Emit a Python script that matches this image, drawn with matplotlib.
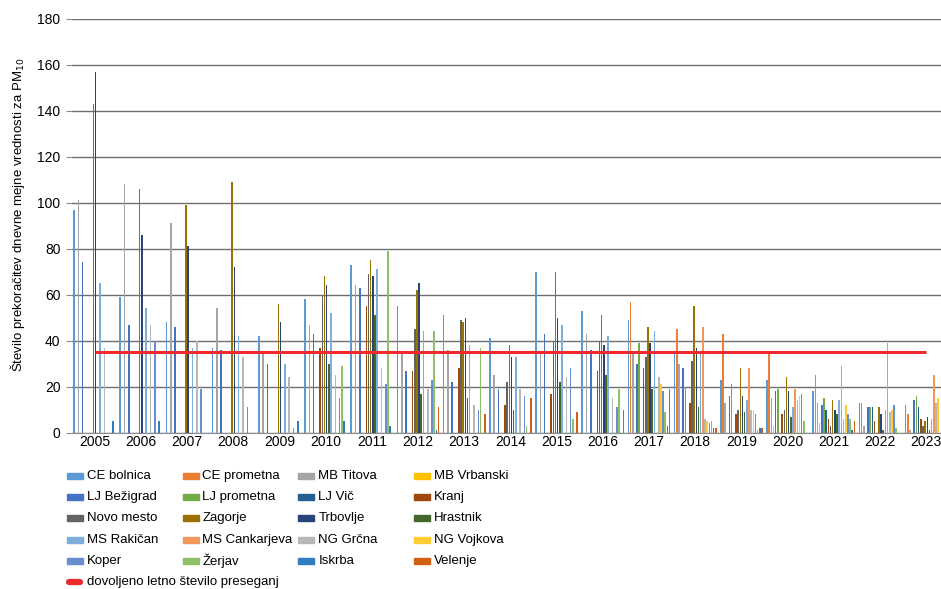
import numpy as np
import matplotlib.pyplot as plt
from matplotlib.patches import Rectangle
from matplotlib.lines import Line2D

plt.rcParams['font.family'] = ['Liberation Sans Narrow', 'Liberation Sans', 'DejaVu Sans']
plt.rcParams['font.size'] = 10

W, H = 941, 589

years = ['2005', '2006', '2007', '2008', '2009', '2010', '2011', '2012', '2013', '2014',
         '2015', '2016', '2017', '2018', '2019', '2020', '2021', '2022', '2023']

# stevilo preseganj po postajah (2005 ... 2023)
ce_bolnica    = [97, 59, 48, 37, 42, 58, 73, 55, 51, 41, 70, 53, 49, 34, 23, 23, 18, 13, 12]
ce_prometna   = [0, 0, 0, 0, 0, 0, 0, 0, 0, 0, 0, 0, 57, 45, 43, 34, 25, 13, 8]
mb_titova     = [101, 108, 91, 54, 34, 47, 64, 34, 36, 25, 34, 43, 34, 30, 13, 15, 13, 3, 1]
mb_vrbanski   = [0, 0, 0, 0, 0, 0, 0, 0, 0, 0, 0, 0, 0, 0, 0, 3, 4, 0, 0]
lj_bezigrad   = [74, 47, 46, 36, 30, 43, 63, 27, 22, 19, 43, 36, 30, 28, 16, 18, 12, 11, 14]
lj_prometna   = [0, 0, 0, 0, 0, 0, 0, 0, 0, 0, 0, 0, 39, 20, 21, 19, 15, 11, 16]
lj_vic        = [0, 0, 0, 0, 0, 0, 0, 0, 0, 0, 0, 0, 0, 0, 0, 0, 10, 11, 11]
kranj         = [0, 0, 0, 0, 0, 37, 55, 27, 28, 12, 17, 27, 28, 13, 8, 8, 6, 5, 6]
novo_mesto    = [0, 0, 0, 0, 0, 60, 69, 45, 49, 22, 40, 40, 33, 31, 10, 10, 3, 0, 3]
zagorje       = [143, 106, 99, 109, 56, 68, 75, 62, 48, 38, 70, 51, 46, 55, 28, 24, 14, 11, 5]
trbovlje      = [157, 86, 81, 72, 48, 64, 68, 65, 50, 33, 50, 38, 39, 37, 16, 18, 10, 8, 7]
hrastnik      = [0, 0, 0, 0, 0, 30, 51, 17, 15, 10, 22, 25, 19, 11, 9, 7, 8, 1, 1]
ms_rakican    = [65, 54, 37, 42, 30, 52, 71, 44, 38, 33, 47, 42, 44, 34, 14, 11, 14, 10, 6]
ms_cankarjeva = [0, 0, 0, 0, 0, 0, 0, 0, 0, 0, 0, 0, 0, 46, 28, 19, 29, 39, 25]
ng_grcna      = [37, 47, 40, 33, 24, 25, 28, 19, 12, 19, 24, 15, 24, 6, 10, 14, 6, 9, 13]
ng_vojkova    = [0, 0, 0, 0, 0, 0, 0, 0, 0, 0, 0, 0, 21, 5, 10, 16, 12, 10, 15]
koper         = [0, 40, 19, 11, 2, 15, 21, 23, 10, 16, 28, 11, 18, 4, 8, 17, 8, 12, 0]
zerjav        = [0, 0, 0, 0, 0, 29, 79, 44, 37, 3, 6, 19, 9, 5, 1, 5, 6, 2, 0]
iskrba        = [5, 5, 0, 0, 5, 5, 3, 1, 0, 0, 0, 0, 3, 2, 2, 0, 1, 0, 0]
velenje       = [0, 0, 0, 0, 0, 0, 0, 11, 8, 15, 9, 10, 19, 2, 2, 0, 5, 0, 0]

dovoljeno = [35, 35, 35, 35, 35, 35, 35, 35, 35, 35, 35, 35, 35, 35, 35, 35, 35, 35, 35]

postaje = ['CE bolnica', 'CE prometna', 'MB Titova', 'MB Vrbanski',
           'LJ Bežigrad', 'LJ prometna', 'LJ Vič', 'Kranj',
           'Novo mesto', 'Zagorje', 'Trbovlje', 'Hrastnik',
           'MS Rakičan', 'MS Cankarjeva', 'NG Grčna', 'NG Vojkova',
           'Koper', 'Žerjav', 'Iskrba', 'Velenje']

barve = ['#5B9BD5', '#ED7D31', '#A5A5A5', '#FFC000',
         '#4472C4', '#70AD47', '#255E91', '#9E480E',
         '#636363', '#997300', '#264478', '#43682B',
         '#7CAFDD', '#F1975A', '#B7B7B7', '#FFCD33',
         '#698ED0', '#8CC168', '#327DC2', '#D26012']

podatki = [ce_bolnica, ce_prometna, mb_titova, mb_vrbanski,
           lj_bezigrad, lj_prometna, lj_vic, kranj,
           novo_mesto, zagorje, trbovlje, hrastnik,
           ms_rakican, ms_cankarjeva, ng_grcna, ng_vojkova,
           koper, zerjav, iskrba, velenje]

fig = plt.figure(figsize=(W / 100, H / 100), dpi=100)
# plot area: category axis -0.5..18.5, right part is cut off like in the original
x0_px, cat_px = 71.5, 46.2
ax = fig.add_axes([x0_px / W, 1 - 432.7 / H, 19 * cat_px / W, (432.7 - 18.7) / H])

x = np.arange(len(years))
korak = 2.17 / cat_px
for k, (ime, vals) in enumerate(zip(postaje, podatki)):
    ax.bar(x + (k - 9.5) * korak, vals, width=korak * 0.72, color=barve[k],
           label=ime, zorder=3, linewidth=0)

ax.plot(x, dovoljeno, color='#EE2A2E', linewidth=2.2, zorder=4, solid_capstyle='butt')

ax.set_xlim(-0.5, 18.5)
ax.set_ylim(0, 180)
ax.set_yticks(range(0, 181, 20))
ax.set_xticks(x)
ax.set_xticklabels(years)
ax.yaxis.grid(True, color='#6E6E6E', linewidth=1)
ax.set_axisbelow(True)
for s in ['top', 'right', 'left']:
    ax.spines[s].set_visible(False)
ax.spines['bottom'].set_color('#8C8C8C')
ax.tick_params(axis='x', length=0, pad=2, labelsize=10)
ax.tick_params(axis='y', length=4, color='#8C8C8C', pad=4, labelsize=10)

fig.text(18 / W, 1 - 215 / H, 'Število prekoračitev dnevne mejne vrednosti za PM$_{10}$',
         rotation=90, ha='center', va='center', fontsize=9.5)

# legenda - 4 stolpci, po vrsticah
for i, ime in enumerate(postaje):
    r, c = divmod(i, 4)
    lx = 66.7 + c * 115.8
    ly = 476 + r * 21.2
    fig.patches.append(Rectangle((lx / W, 1 - (ly + 3) / H), 16 / W, 6 / H,
                                 transform=fig.transFigure, color=barve[i]))
    fig.text((lx + 20) / W, 1 - ly / H, ime, ha='left', va='center', fontsize=9.5)

ly = 476 + 5 * 21.2
fig.lines.append(Line2D([69 / W, 80 / W], [1 - ly / H, 1 - ly / H], transform=fig.transFigure,
                        color='#EE2A2E', linewidth=4.5, solid_capstyle='round'))
fig.text(86.7 / W, 1 - ly / H, 'dovoljeno letno število preseganj', ha='left', va='center',
         fontsize=9.5)

fig.savefig('out.png', dpi=100)
